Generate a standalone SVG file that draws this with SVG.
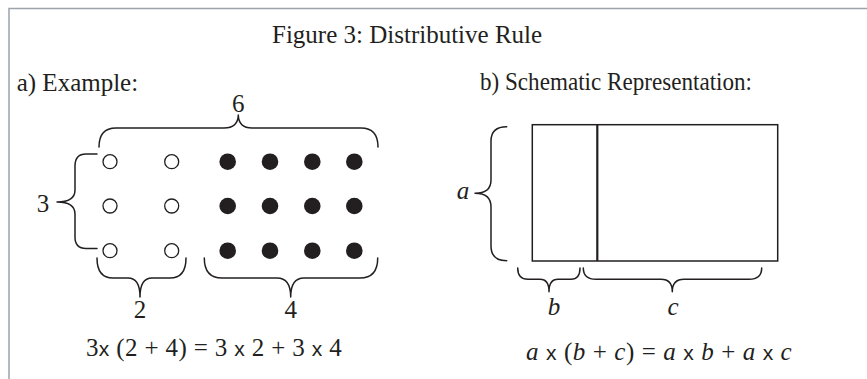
<svg xmlns="http://www.w3.org/2000/svg" width="867" height="379" viewBox="0 0 867 379">
<style>
text{font-family:"Liberation Serif","Times New Roman",serif;font-size:25px;fill:#231f20}
.i{font-style:italic}
.x{font-family:"Liberation Sans",Arial,sans-serif;font-size:21px}
.m{text-anchor:middle}
.br{fill:none;stroke:#231f20;stroke-width:1.5;stroke-linecap:round;stroke-linejoin:round}
.frame{fill:none;stroke:#9ca3aa;stroke-width:1.5}
.open{fill:#fff;stroke:#231f20;stroke-width:1.3}
.full{fill:#231f20}
</style>
<rect width="867" height="379" fill="#fff"/>
<g id="frame"><path class="frame" d="M9,379 V8.5 H867"/></g>
<g id="title"><text x="272" y="42.5">Figure 3: Distributive Rule</text></g>
<g id="part-a">
<text x="16.7" y="91">a) Example:</text>
<g id="dots">
<circle class="open" cx="110" cy="161.7" r="7"/><circle class="open" cx="171.7" cy="161.7" r="7"/>
<circle class="open" cx="110" cy="206" r="7"/><circle class="open" cx="171.7" cy="206" r="7"/>
<circle class="open" cx="110" cy="250.7" r="7"/><circle class="open" cx="171.7" cy="250.7" r="7"/>
<circle class="full" cx="227.7" cy="161.7" r="8.3"/><circle class="full" cx="270" cy="161.7" r="8.3"/><circle class="full" cx="312.3" cy="161.7" r="8.3"/><circle class="full" cx="354.3" cy="161.7" r="8.3"/>
<circle class="full" cx="227.7" cy="206" r="8.3"/><circle class="full" cx="270" cy="206" r="8.3"/><circle class="full" cx="312.3" cy="206" r="8.3"/><circle class="full" cx="354.3" cy="206" r="8.3"/>
<circle class="full" cx="227.7" cy="250.7" r="8.3"/><circle class="full" cx="270" cy="250.7" r="8.3"/><circle class="full" cx="312.3" cy="250.7" r="8.3"/><circle class="full" cx="354.3" cy="250.7" r="8.3"/>
</g>
<g id="brace-6">
<path class="br" d="M99,147 Q99,128 116,128 L224,128 Q238,128 238.3,115 Q238.6,128 252,128 L361,128 Q378,128 378,147"/>
<text class="m" x="238.3" y="112">6</text>
</g>
<g id="brace-3">
<path class="br" d="M97,154 L86,154 Q75,154 75,166 L75,190 Q75,202 57,202 Q75,202 75,214 L75,237 Q75,248.5 86,248.5 L97,248.5"/>
<text class="m" x="43" y="211.7">3</text>
</g>
<g id="brace-2">
<path class="br" d="M97,258 Q97,278 113,278 L128,278 Q140,278 140,297 Q140,278 152,278 L170,278 Q186,278 186,258"/>
<text class="m" x="140" y="318.3">2</text>
</g>
<g id="brace-4">
<path class="br" d="M204.3,258 Q204.3,278 222,278 L277,278 Q290.7,278 290.7,297 Q290.7,278 304,278 L360,278 Q377.7,278 377.7,258"/>
<text class="m" x="290.7" y="318.3">4</text>
</g>
<text x="86" y="356" textLength="255.7">3<tspan class="x">x</tspan> (2 + 4) = 3 <tspan class="x">x</tspan> 2 + 3 <tspan class="x">x</tspan> 4</text>
</g>
<g id="part-b">
<text x="480" y="90" textLength="272" lengthAdjust="spacingAndGlyphs">b) Schematic Representation:</text>
<g id="rect">
<rect x="532.3" y="124.7" width="245.4" height="136.3" fill="none" stroke="#231f20" stroke-width="1.5"/>
<line x1="597.3" y1="124.7" x2="597.3" y2="261" stroke="#231f20" stroke-width="2.2"/>
</g>
<g id="brace-a">
<path class="br" d="M506.7,126.7 Q491,126.7 491,141 L491,180 Q491,193.3 475,193.3 Q491,193.3 491,207 L491,246 Q491,260.7 506.7,260.7"/>
<text class="m i" x="463" y="199">a</text>
</g>
<g id="brace-b">
<path class="br" d="M517.7,268 Q517.7,279.3 528,279.3 L540,279.3 Q549,279.3 549,291.7 Q549,279.3 558,279.3 L571,279.3 Q580,279.3 580,268"/>
<text class="m i" x="554" y="315">b</text>
</g>
<g id="brace-c">
<path class="br" d="M583.3,268 Q583.3,279.3 596,279.3 L661,279.3 Q672.3,279.3 672.3,291.7 Q672.3,279.3 684,279.3 L749,279.3 Q761.7,279.3 761.7,268"/>
<text class="m i" x="673" y="315">c</text>
</g>
<text x="526" y="360" textLength="265.7"><tspan class="i">a</tspan> <tspan class="x">x</tspan> (<tspan class="i">b</tspan> + <tspan class="i">c</tspan>) = <tspan class="i">a</tspan> <tspan class="x">x</tspan> <tspan class="i">b</tspan> + <tspan class="i">a</tspan> <tspan class="x">x</tspan> <tspan class="i">c</tspan></text>
</g>
</svg>
